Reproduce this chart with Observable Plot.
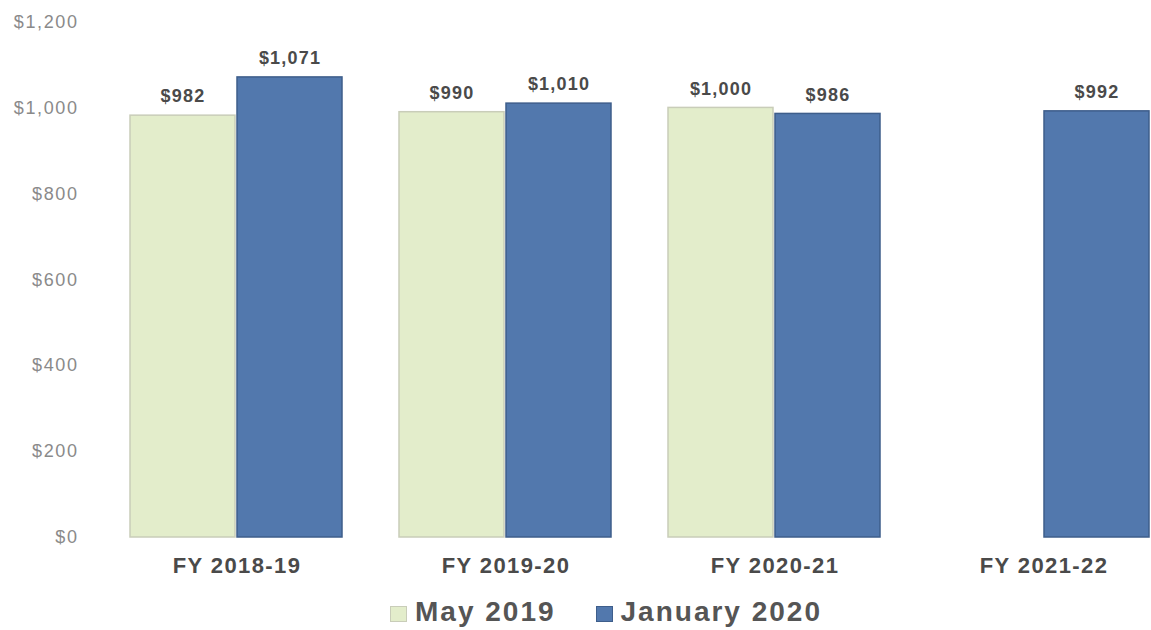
<!DOCTYPE html>
<html><head><meta charset="utf-8">
<script src="https://cdn.jsdelivr.net/npm/d3@7"></script>
<script src="https://cdn.jsdelivr.net/npm/@observablehq/plot@0.6"></script>
<style>
html,body{margin:0;padding:0;background:#fff;overflow:hidden;}
#wrap{width:1151px;height:630px;overflow:hidden;position:relative;font-family:"Liberation Sans",Arial,sans-serif;}
#chart{position:absolute;left:0;top:0;}
#chart svg{max-width:none !important;}
#chart g[aria-label="y-axis tick label"] text{letter-spacing:1.6px;}
#chart g[aria-label="fx-axis tick label"] text{letter-spacing:1.4px;}
#chart g[aria-label="text"] text{letter-spacing:1.2px;}
#legend{position:absolute;top:597px;left:390px;display:flex;align-items:center;font-size:28px;font-weight:bold;color:#555;white-space:nowrap;letter-spacing:2px;line-height:30px;}
.sw{display:inline-block;width:17px;height:16px;margin-right:8px;box-sizing:border-box;margin-top:4px;}
.item{display:flex;align-items:center;margin-right:40px;}
</style></head>
<body><div id="wrap"><div id="chart"></div><div id="legend"></div></div>
<script>
const years = ["FY 2018-19", "FY 2019-20", "FY 2020-21", "FY 2021-22"];
const series = ["May 2019", "January 2020"];
const may2019 = [982, 990, 1000, null];
const jan2020 = [1071, 1010, 986, 992];
const yTicks = [0, 200, 400, 600, 800, 1000, 1200];
const fills = ["#e3edcb", "#5278ad"];
const strokes = ["#c9cdb9", "#3e5e8b"];

const data = [];
years.forEach((yr, i) => {
  if (may2019[i] != null) data.push({year: yr, series: series[0], value: may2019[i]});
  if (jan2020[i] != null) data.push({year: yr, series: series[1], value: jan2020[i]});
});
const money = d => "$" + d3.format(",")(d);

const chart = Plot.plot({
  width: 1180, height: 580,
  marginLeft: 101, marginRight: 2, marginTop: 21.5, marginBottom: 43,
  style: {fontFamily: "'Liberation Sans', Arial, sans-serif", background: "transparent"},
  fx: {domain: years, paddingInner: 0.21, paddingOuter: 0.105, label: null, axis: null},
  x: {domain: series, axis: null, paddingInner: 0.015, paddingOuter: 0},
  y: {domain: [0, 1200], axis: null},
  color: {domain: series, range: fills},
  marks: [
    Plot.axisY({ticks: yTicks, tickSize: 0, tickPadding: 52, tickFormat: money, fontSize: 18, fill: "#8a8a8a", label: null}),
    Plot.axisFx({anchor: "bottom", tickSize: 0, tickPadding: 20, fontSize: 22, fontWeight: "bold", fill: "#4a4a4a", label: null}),
    Plot.barY(data, {fx: "year", x: "series", y: "value", fill: "series", stroke: d => strokes[series.indexOf(d.series)], strokeWidth: 1.5}),
    Plot.text(data, {fx: "year", x: "series", y: "value", text: d => money(d.value), dy: -19, fontWeight: "bold", fontSize: 18, fill: "#4a4a4a"})
  ]
});
document.getElementById("chart").appendChild(chart);

const leg = document.getElementById("legend");
series.forEach((s, i) => {
  const it = document.createElement("span"); it.className = "item";
  const sw = document.createElement("span"); sw.className = "sw";
  sw.style.background = fills[i]; sw.style.border = "1.5px solid " + strokes[i];
  it.appendChild(sw); it.appendChild(document.createTextNode(s));
  leg.appendChild(it);
});
</script></body></html>
